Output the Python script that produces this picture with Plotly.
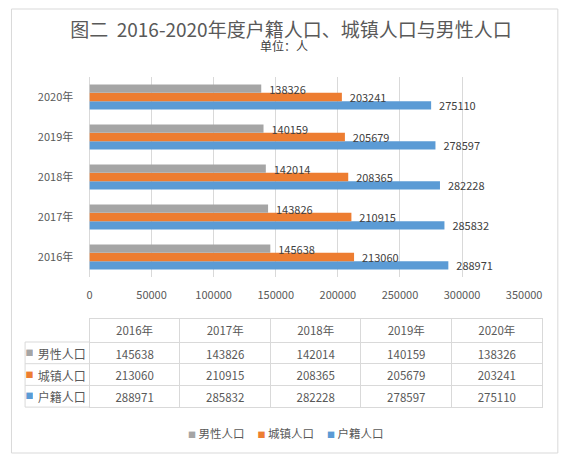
import plotly.graph_objects as go

# ---- data ----
years = ["2016年", "2017年", "2018年", "2019年", "2020年"]
male = [145638, 143826, 142014, 140159, 138326]
urban = [213060, 210915, 208365, 205679, 203241]
household = [288971, 285832, 282228, 278597, 275110]
series_names = ["男性人口", "城镇人口", "户籍人口"]
x_ticks = [0, 50000, 100000, 150000, 200000, 250000, 300000, 350000]

colors = {"男性人口": "#a5a5a5", "城镇人口": "#ed7d31", "户籍人口": "#5b9bd5"}
series_vals = {"男性人口": male, "城镇人口": urban, "户籍人口": household}

OFF = 8                 # default page body margin of the browser
SX = 587 / 571          # page px per picture px, horizontally
W, H = 571, 464 - 2 * OFF
FONT = "Noto Sans CJK SC"
GRID = "#d9d9d9"
TXT = "#595959"


def px(x):
    """picture pixel -> paper fraction"""
    return (x * SX - OFF) / W


def py(y):
    return 1 - (y - OFF) / H


fig = go.Figure()

# bars: first trace drawn at bottom of each group
for name in ["户籍人口", "城镇人口", "男性人口"]:
    vals = series_vals[name]
    fig.add_trace(go.Bar(
        y=years, x=vals, name=name, orientation="h",
        marker=dict(color=colors[name], line=dict(width=0)),
        text=["\u00a0\u00a0" + str(v) for v in vals],
        textposition="outside", constraintext="none", cliponaxis=False,
        textfont=dict(size=11, color="#404040", family=FONT),
        showlegend=False,
        xaxis="x", yaxis="y",
    ))

# ---- data table ----
T_LEFT, T_RIGHT, T_TOP = 22, 545, 318
HDR_H, ROW_H = 24, 21.7
SQ_W, LABEL_W = 9, 56
T_BOTTOM = T_TOP + HDR_H + ROW_H * len(series_names)

sq_col = ["■"] * len(series_names)
name_col = series_names
num_cols = [[series_vals[n][i] for n in series_names] for i in range(len(years))]
n_num = len(years)
num_w = (T_RIGHT - T_LEFT - SQ_W - LABEL_W) / n_num

fig.add_trace(go.Table(
    domain=dict(x=[px(T_LEFT), px(T_RIGHT)], y=[py(T_BOTTOM + 4), py(T_TOP)]),
    columnwidth=[SQ_W, LABEL_W] + [num_w] * n_num,
    header=dict(values=["", ""] + years, height=HDR_H, align="center",
                line=dict(color=["#ffffff", "#ffffff"] + [GRID] * n_num, width=1),
                fill=dict(color="white"),
                font=dict(size=11.5, color=TXT, family=FONT)),
    cells=dict(values=[sq_col, name_col] + num_cols, height=ROW_H,
               align="center",
               line=dict(color=["#ffffff", "#ffffff"] + [GRID] * n_num, width=1),
               fill=dict(color="white"),
               font=dict(size=[8, 12] + [11.5] * n_num,
                         color=[[colors[n] for n in series_names], TXT] + [TXT] * n_num,
                         family=FONT)),
))

# borders of the label column (drawn as lines)
table_shapes = [dict(type="line", xref="paper", yref="paper",
                     x0=px(T_LEFT), x1=px(T_LEFT), y0=py(T_TOP + HDR_H), y1=py(T_BOTTOM),
                     line=dict(color=GRID, width=1), layer="above")]
for k in range(len(series_names) + 1):
    yy = T_TOP + HDR_H + ROW_H * k
    table_shapes.append(dict(type="line", xref="paper", yref="paper",
                             x0=px(T_LEFT), x1=px(T_LEFT + SQ_W + LABEL_W), y0=py(yy), y1=py(yy),
                             line=dict(color=GRID, width=1), layer="above"))

# legend (built as text from the series names and colours)
legend_text = "\u00a0\u00a0\u00a0\u00a0\u00a0".join(
    f"<span style='color:{colors[n]};font-size:8px'>■</span>\u00a0{n}" for n in series_names)

fig.update_layout(
    width=W, height=H,
    margin=dict(l=0, r=0, t=0, b=0),
    paper_bgcolor="white", plot_bgcolor="white",
    font=dict(family=FONT, color=TXT),
    barmode="group", bargap=0.373, bargroupgap=0,
    showlegend=False,
    title=dict(text="图二  2016-2020年度户籍人口、城镇人口与男性人口",
               x=px(283), y=py(30.5), xanchor="center", yanchor="middle",
               font=dict(size=19, color=TXT, family=FONT)),
    xaxis=dict(domain=[px(87), px(526)], range=[0, 350000],
               tickvals=x_ticks, ticktext=[str(t) for t in x_ticks],
               showgrid=True, gridcolor=GRID, gridwidth=1,
               zeroline=True, zerolinecolor=GRID, zerolinewidth=1,
               showline=False, ticks="outside", ticklen=8,
               tickcolor="rgba(0,0,0,0)",
               tickfont=dict(size=11, color=TXT), anchor="y",
               fixedrange=True),
    yaxis=dict(domain=[py(277), py(77)], showgrid=False, zeroline=False,
               showline=False, ticks="outside", ticklen=13,
               tickcolor="rgba(0,0,0,0)",
               tickfont=dict(size=11, color=TXT), anchor="x",
               fixedrange=True),
    annotations=[
        dict(text="单位：人", x=px(283), y=py(45.5), xref="paper",
             yref="paper", showarrow=False, xanchor="center", yanchor="middle",
             font=dict(size=12, color="#404040", family=FONT)),
        dict(text=legend_text, x=px(285.5), y=py(433), xref="paper",
             yref="paper", showarrow=False, xanchor="center", yanchor="middle",
             font=dict(size=11.5, color=TXT, family=FONT)),
    ],
    shapes=[dict(type="rect", xref="paper", yref="paper",
                 x0=0.5 / W, x1=px(560), y0=py(453), y1=py(9),
                 line=dict(color=GRID, width=1))] + table_shapes,
)

fig.write_html("out.html", config={"displayModeBar": False})
